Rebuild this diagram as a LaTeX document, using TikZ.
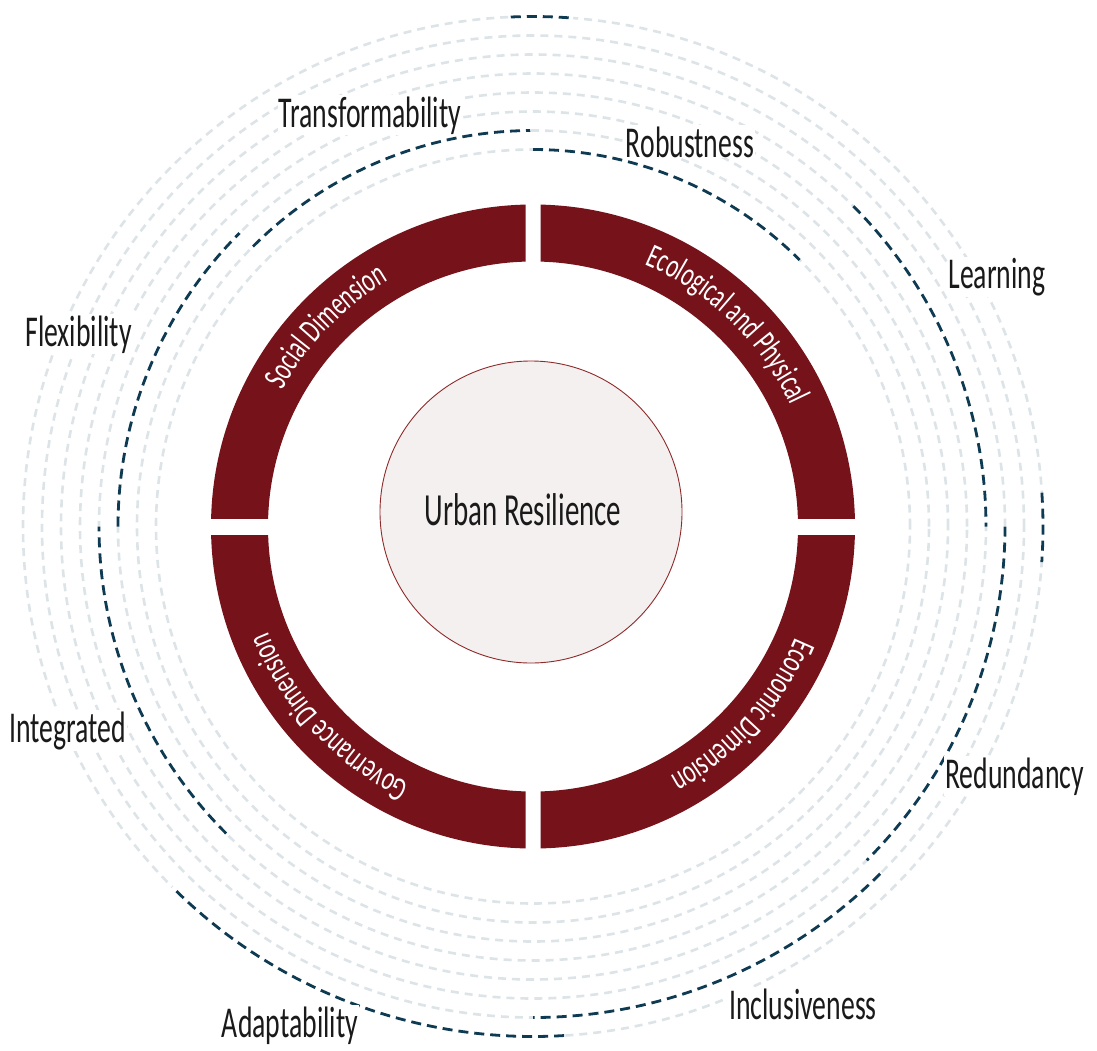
\documentclass[tikz,border=0pt]{standalone}
\usepackage{fontspec}
\setmainfont{Carlito}
\newfontfamily\labelfont[FakeStretch=0.63]{Carlito}
\newfontfamily\ringfont[FakeStretch=0.66]{Carlito}
\usetikzlibrary{calc,decorations.text}

\definecolor{ringred}{HTML}{76131A}
\definecolor{hubfill}{HTML}{F5F0F0}
\definecolor{hubline}{HTML}{8E2A2A}
\definecolor{navy}{HTML}{0E3A52}
\definecolor{mist}{HTML}{DDE4E8}
\definecolor{ink}{HTML}{1A1A1A}

\newcommand\ringstyle{\ringfont\fontsize{34}{36}\selectfont}

\tikzset{
  faint/.style={mist, line width=2.6pt, dash pattern=on 8pt off 6pt},
  principle/.style={navy, line width=2.8pt, dash pattern=on 10pt off 6pt},
  underlay/.style={white, line width=4.5pt},
  quality/.style={font=\labelfont\fontsize{44}{46}\selectfont, text=ink, fill=white, inner sep=1pt, anchor=base},
  hub/.style={circle, minimum size=302pt, fill=hubfill, draw=hubline, line width=0.9pt, inner sep=0pt},
}

\begin{document}
\begin{tikzpicture}[x=1pt, y=1pt]
  \useasboundingbox[fill=white] (0,0) rectangle (1097,-1050);
  \coordinate (C) at (533,-526.5);

  % dashed rings
  \foreach \k in {1,...,8}
    \draw[faint] (C) circle[radius=358+19*\k];

  % principle arcs
  \foreach \k/\from/\to in {1/90/45, 5/45/0, 6/0/-45, 7/-45/-90, 8/-86.5/-135,
                            4/-135/-180, 3/180/135, 2/135/90.4, 8/92.5/85.5, 8/3.8/-4}{
    \pgfmathsetmacro\rad{358+19*\k}
    \draw[underlay] ([shift={(\from:\rad)}]C) arc[start angle=\from, end angle=\to, radius=\rad];
    \draw[principle] ([shift={(\from:\rad)}]C) arc[start angle=\from, end angle=\to, radius=\rad];
  }

  % four dimensions
  \foreach \sx/\sy in {-1/1, 1/1, 1/-1, -1/-1}{
    \begin{scope}
      \clip ($(C)+(\sx*7.5,\sy*8.5)$) rectangle ($(C)+(\sx*340,\sy*340)$);
      \fill[ringred, even odd rule] (C) circle[radius=322] (C) circle[radius=265];
    \end{scope}
  }
  \foreach \mid/\txt in {136/Social Dimension, 46/Ecological and Physical,
                         -42/Economic Dimension, -137/Governance Dimension}
    \path[decorate, decoration={text along path, text align=center, text color=white,
          text/.expanded={|\noexpand\ringstyle|\txt}}]
      ([shift={(\mid+50:285)}]C) arc[start angle=\mid+50, end angle=\mid-50, radius=285];

  % centre
  \node[hub] (core) at (531,-512) {};
  \node[font=\labelfont\fontsize{46}{48}\selectfont, text=ink, anchor=base] (title) at (523,-525) {Urban Resilience};

  % labels
  \node[quality] (transf) at (370,-127) {Transformability};
  \node[quality] (robust) at (690,-157) {Robustness};
  \node[quality] (learn) at (997,-288) {Learning};
  \node[quality] (flex) at (78.5,-346) {Flexibility};
  \node[quality] (integ) at (67.5,-742) {Integrated};
  \node[quality] (redund) at (1014.5,-788) {Redundancy};
  \node[quality] (adapt) at (290,-1037) {Adaptability};
  \node[quality] (incl) at (803,-1019) {Inclusiveness};
\end{tikzpicture}
\end{document}
